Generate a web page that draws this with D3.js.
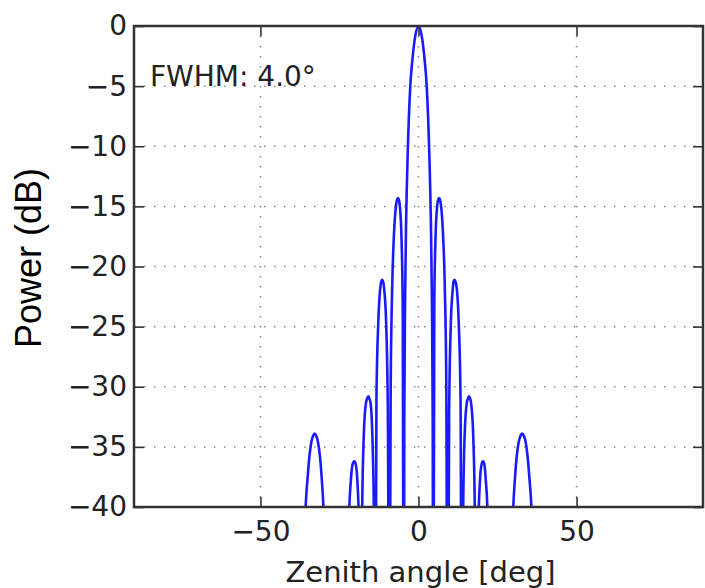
<!DOCTYPE html>
<html>
<head>
<meta charset="utf-8">
<script src="https://cdn.jsdelivr.net/npm/d3@7"></script>
<style>
  html, body { margin: 0; padding: 0; background: #fff; }
  svg { display: block; }
</style>
</head>
<body>
<div id="chart"></div>
<script>
// ---------- data ----------

// beam pattern samples: zenith angle (deg) and power (dB), one row per lobe
// values below -40 sit outside the plot and are clipped
const angles = [
  -90, -50, -37.2, -36.0, -35.0, -33.9, -33.3, -32.9, -32.4, -31.8, -30.7, -29.7, -28.7,
  -25.5, -22.7, -22.0, -21.4, -20.8, -20.3, -19.9, -19.3, -18.8, -18.2,
  -17.8, -17.3, -16.7, -16.2, -15.9, -15.6, -15.2, -14.6, -14.1, -13.7,
  -13.3, -12.7, -12.1, -11.8, -11.5, -11.2, -10.8, -10.2, -9.7, -9.2,
  -8.8, -8.3, -7.7, -7.1, -6.8, -6.5, -6.2, -5.9, -5.4, -5.0, -4.65,
  -4.5, -4.25, -3.9, -3.4, -2.6, -2.0, -1.0, 0, 1.0, 2.0, 2.6, 3.4, 3.9, 4.25, 4.5,
  4.65, 5.0, 5.4, 5.9, 6.2, 6.5, 6.8, 7.1, 7.7, 8.3, 8.8,
  9.2, 9.7, 10.2, 10.8, 11.1, 11.4, 11.7, 12.1, 12.7, 13.3,
  13.7, 14.1, 14.6, 15.3, 15.7, 16.0, 16.3, 16.7, 17.3, 17.8,
  18.2, 18.9, 19.4, 20.0, 20.4, 20.8, 21.3, 21.9, 22.6, 25.5,
  28.6, 29.6, 30.6, 31.7, 32.3, 32.8, 33.3, 33.9, 35.0, 36.0, 37.2, 50, 90
];
const powerDb = [
  -60, -58, -60, -42, -37.3, -34.6, -34.05, -33.9, -34.05, -34.6, -37.3, -43, -60,
  -52, -60, -41, -37.8, -36.4, -36.2, -36.4, -38, -42, -60,
  -40, -34, -31.5, -30.95, -30.8, -30.95, -31.3, -34, -41, -60,
  -31, -24.5, -21.8, -21.25, -21.1, -21.25, -22, -25, -32, -60,
  -30, -21.5, -17, -14.9, -14.45, -14.3, -14.45, -15.0, -17.5, -23, -60,
  -33, -23, -16, -10.5, -5, -3, -0.8, 0, -0.8, -3, -5, -10.5, -16, -23, -33,
  -60, -23, -17.5, -15.0, -14.45, -14.3, -14.45, -14.9, -17, -21.5, -30,
  -60, -32, -25, -22, -21.25, -21.1, -21.25, -21.8, -24.5, -31,
  -60, -41, -34, -31.3, -30.95, -30.8, -30.95, -31.5, -34, -40,
  -60, -42, -38, -36.4, -36.2, -36.4, -37.8, -41, -60, -52,
  -60, -43, -37.3, -34.6, -34.05, -33.9, -34.05, -34.6, -37.3, -42, -60, -58, -60
];

const xTicks = [-50, 0, 50];
const yTicks = [0, -5, -10, -15, -20, -25, -30, -35, -40];
const annotation = "FWHM: 4.0°";

// ---------- layout ----------

const width = 705;
const height = 588;
const plotLeft = 134, plotRight = 703, plotTop = 26, plotBottom = 507;

const x = d3.scaleLinear().domain([-90, 90]).range([plotLeft, plotRight]);
const y = d3.scaleLinear().domain([-40, 0]).range([plotBottom, plotTop]);

const svg = d3.select("#chart")
  .append("svg")
  .attr("width", width)
  .attr("height", height);

svg.append("defs")
  .append("clipPath")
  .attr("id", "plot-clip")
  .append("rect")
  .attr("x", plotLeft)
  .attr("y", plotTop - 2)
  .attr("width", plotRight - plotLeft)
  .attr("height", plotBottom - plotTop + 2);

// grid (dotted)
const grid = svg.append("g").attr("class", "grid");
grid.selectAll("line.gx")
  .data(xTicks)
  .join("line")
  .attr("class", "gx")
  .attr("x1", (d) => x(d))
  .attr("x2", (d) => x(d))
  .attr("y1", plotTop)
  .attr("y2", plotBottom)
  .attr("stroke", "#888")
  .attr("stroke-width", 1.5)
  .attr("stroke-dasharray", "1.5,8.5");
grid.selectAll("line.gy")
  .data(yTicks.filter((d) => d !== 0 && d !== -40))
  .join("line")
  .attr("class", "gy")
  .attr("x1", plotLeft)
  .attr("x2", plotRight)
  .attr("y1", (d) => y(d))
  .attr("y2", (d) => y(d))
  .attr("stroke", "#888")
  .attr("stroke-width", 1.5)
  .attr("stroke-dasharray", "1.5,8.5");

// beam curve
const points = angles.map((a, i) => [a, powerDb[i]]);
const line = d3.line()
  .x((d) => x(d[0]))
  .y((d) => y(d[1]))
  .curve(d3.curveMonotoneX);

svg.append("path")
  .datum(points)
  .attr("clip-path", "url(#plot-clip)")
  .attr("fill", "none")
  .attr("stroke", "#1a1aff")
  .attr("stroke-width", 2.6)
  .attr("stroke-linejoin", "round")
  .attr("d", line);

// axes: inward ticks on all four sides
const tickLen = 10;
const fmt = d3.format("d");

const xAxisB = d3.axisBottom(x).tickValues(xTicks).tickSize(-tickLen).tickPadding(14).tickFormat(fmt);
const xAxisT = d3.axisTop(x).tickValues(xTicks).tickSize(-tickLen).tickFormat("");
const yAxisL = d3.axisLeft(y).tickValues(yTicks).tickSize(-tickLen).tickPadding(7).tickFormat(fmt);
const yAxisR = d3.axisRight(y).tickValues(yTicks).tickSize(-tickLen).tickFormat("");

function styleAxis(g) {
  g.select(".domain").remove();
  g.selectAll(".tick line").attr("stroke", "#333").attr("stroke-width", 1.6);
  g.selectAll(".tick text")
    .attr("fill", "#222")
    .style("font-family", "'DejaVu Sans', sans-serif")
    .style("font-size", "28px");
}

svg.append("g").attr("transform", `translate(0,${plotBottom})`).call(xAxisB).call(styleAxis);
svg.append("g").attr("transform", `translate(0,${plotTop})`).call(xAxisT).call(styleAxis);
svg.append("g").attr("transform", `translate(${plotLeft},0)`).call(yAxisL).call(styleAxis);
svg.append("g").attr("transform", `translate(${plotRight},0)`).call(yAxisR).call(styleAxis);

// frame
svg.append("rect")
  .attr("x", plotLeft)
  .attr("y", plotTop)
  .attr("width", plotRight - plotLeft)
  .attr("height", plotBottom - plotTop)
  .attr("fill", "none")
  .attr("stroke", "#333")
  .attr("stroke-width", 2.5);

// annotation
svg.append("text")
  .attr("x", 150)
  .attr("y", 86)
  .attr("fill", "#222")
  .style("font-family", "'DejaVu Sans', sans-serif")
  .style("font-size", "28px")
  .text(annotation);

// axis labels
svg.append("text")
  .attr("x", (plotLeft + plotRight) / 2 + 2)
  .attr("y", 582)
  .attr("text-anchor", "middle")
  .attr("fill", "#222")
  .style("font-family", "'DejaVu Sans', sans-serif")
  .style("font-size", "29px")
  .text("Zenith angle [deg]");

svg.append("text")
  .attr("transform", "translate(41,258) rotate(-90)")
  .attr("text-anchor", "middle")
  .attr("fill", "#000")
  .style("font-family", "'Liberation Sans', Arial, sans-serif")
  .style("font-size", "36px")
  .text("Power (dB)");
</script>
</body>
</html>
